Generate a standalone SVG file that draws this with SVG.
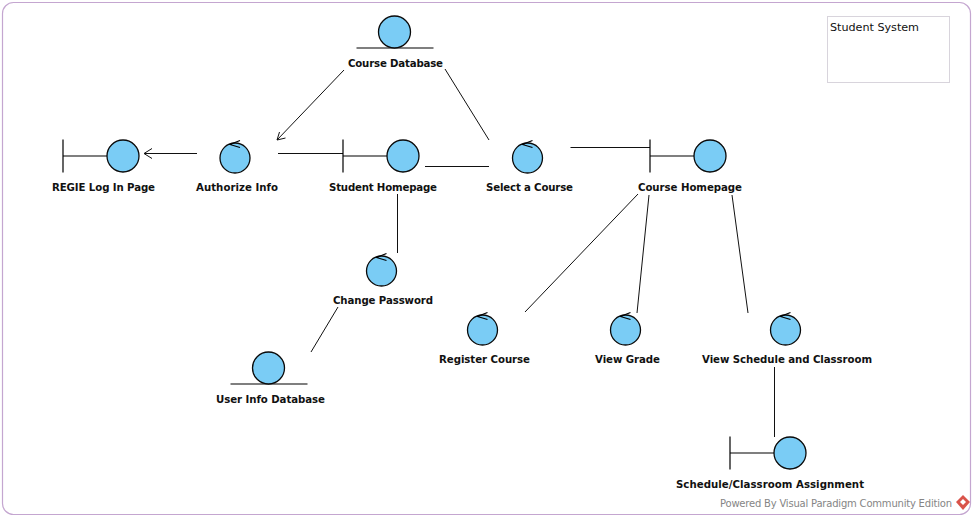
<svg xmlns="http://www.w3.org/2000/svg" width="975" height="519" viewBox="0 0 975 519">
<defs>
<style>
.c{fill:#7accf5;stroke:#0a0a0a;stroke-width:1.3}
.s{fill:none;stroke:#000;stroke-width:1.2}
.l{fill:none;stroke:#111;stroke-width:1}
text{font-family:"DejaVu Sans","Liberation Sans",sans-serif;fill:#111}
.t{font-size:10.200px;font-weight:bold;text-anchor:middle}
</style>
<g id="ctl"><circle class="c" cx="0" cy="0" r="15"/><path class="s" d="M5,-10.500 L-5,-13.500 L5,-17.500"/></g>
<g id="bnd"><path class="s" d="M-60,-16.500 V16.500 M-60,0 H-16"/><circle class="c" cx="0" cy="0" r="16"/></g>
<g id="ent"><path class="s" d="M-38,16 H39"/><circle class="c" cx="0" cy="0" r="16"/></g>
</defs>
<rect x="2.500" y="2.500" width="968" height="512" rx="11" fill="#fff" stroke="#c4a6d0" stroke-width="1.200"/>
<g id="connectors">
<path class="l" d="M197,153.500 H144"/><path class="l" d="M152,148.500 L144,153.500 L152,158.500"/>
<path class="l" d="M344,70 L277,140"/><path class="l" d="M279.500,132 L277,140 L285.500,138"/>
<path class="l" d="M278,153.500 H343"/>
<path class="l" d="M425,166.500 H489"/>
<path class="l" d="M445,69 L489,140"/>
<path class="l" d="M570.500,147.500 H650"/>
<path class="l" d="M397.500,194 V253"/>
<path class="l" d="M338,307 L311,352"/>
<path class="l" d="M638,194 L525,312"/>
<path class="l" d="M649,195 L637,313"/>
<path class="l" d="M732,195 L748,313"/>
<path class="l" d="M774.500,367 V437"/>
</g>
<g id="n-course-db"><use href="#ent" x="394.500" y="32"/><text class="t" x="395.500" y="67" textLength="95">Course Database</text></g>
<g id="n-regie"><use href="#bnd" x="123" y="156"/><text class="t" x="103.500" y="191" textLength="103">REGIE Log In Page</text></g>
<g id="n-authorize"><use href="#ctl" x="235" y="158"/><text class="t" x="237" y="191" textLength="82">Authorize Info</text></g>
<g id="n-student-home"><use href="#bnd" x="403" y="156"/><text class="t" x="383" y="191" textLength="108">Student Homepage</text></g>
<g id="n-select"><use href="#ctl" x="527.500" y="158"/><text class="t" x="529.500" y="191" textLength="87">Select a Course</text></g>
<g id="n-course-home"><use href="#bnd" x="710" y="156"/><text class="t" x="690" y="191" textLength="104">Course Homepage</text></g>
<g id="n-change-pw"><use href="#ctl" x="381.500" y="271"/><text class="t" x="383" y="304" textLength="100">Change Password</text></g>
<g id="n-user-db"><use href="#ent" x="268.500" y="368"/><text class="t" x="270.500" y="403" textLength="109">User Info Database</text></g>
<g id="n-register"><use href="#ctl" x="482.500" y="330"/><text class="t" x="484.500" y="363" textLength="91">Register Course</text></g>
<g id="n-grade"><use href="#ctl" x="625.500" y="330"/><text class="t" x="627.500" y="363" textLength="65">View Grade</text></g>
<g id="n-schedule"><use href="#ctl" x="785.500" y="330"/><text class="t" x="787" y="363" textLength="170">View Schedule and Classroom</text></g>
<g id="n-assign"><use href="#bnd" x="790" y="453"/><text class="t" x="770" y="488" textLength="188">Schedule/Classroom Assignment</text></g>
<g id="n-system"><rect x="827.500" y="16.500" width="122" height="66" fill="#fff" stroke="#d8d4dc"/><text x="830" y="31" font-size="11.200" textLength="89">Student System</text></g>
<g id="watermark"><text x="720" y="507" font-size="10" style="fill:#858585" textLength="232">Powered By Visual Paradigm Community Edition</text>
<path d="M963,495 L970,502 L963,510 L956,502 Z" fill="#d9534a"/><path d="M963,499 L966,502 L963,505 L960,502 Z" fill="#fff"/></g>
</svg>
